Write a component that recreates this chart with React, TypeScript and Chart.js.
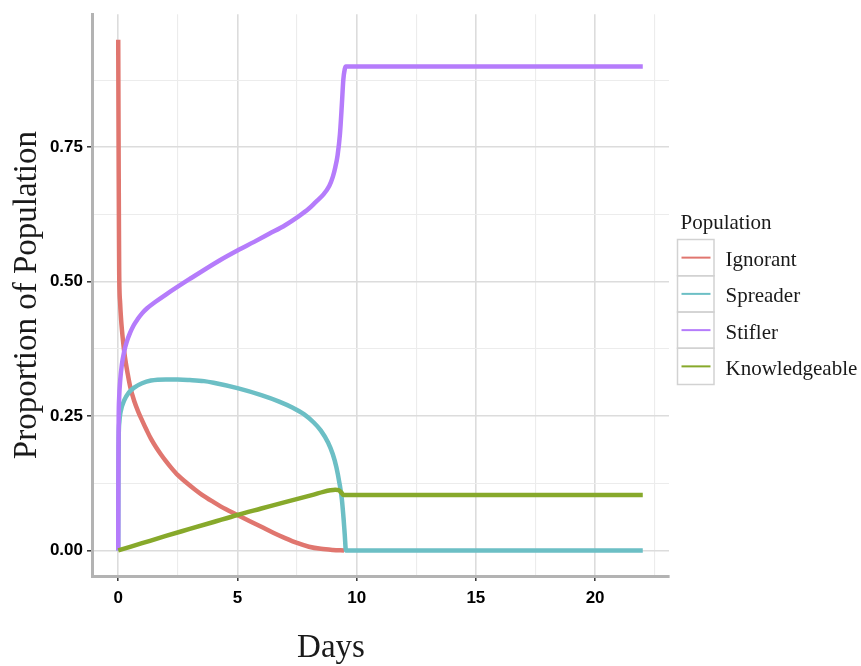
import React, { useEffect, useRef } from "react";
import { Chart, registerables } from "chart.js";

Chart.register(...registerables);

// ---- data ----
const seriesNames = ["Ignorant", "Spreader", "Stifler", "Knowledgeable"];
const seriesColors = ["#e0766f", "#6cbfc5", "#b57cfb", "#87a92b"];

const ignorantDays = [0, 0.01, 0.02, 0.03, 0.04, 0.08, 0.12, 0.2, 0.28, 0.4, 0.5, 0.67, 0.85, 1.0, 1.2, 1.37, 1.6, 1.8, 2.0, 2.2, 2.5, 2.84, 3.2, 3.5, 4.0, 4.5, 5.0, 5.5, 6.0, 6.5, 7.0, 7.5, 8.0, 8.5, 9.0, 9.47];
const ignorantValues = [0.95, 0.82, 0.7, 0.6, 0.52, 0.46, 0.43, 0.39, 0.36, 0.328, 0.305, 0.278, 0.257, 0.242, 0.223, 0.208, 0.191, 0.178, 0.166, 0.155, 0.14, 0.127, 0.114, 0.104, 0.09, 0.077, 0.066, 0.055, 0.044, 0.033, 0.023, 0.014, 0.007, 0.003, 0.001, 0];

const spreaderDays = [0, 0.005, 0.01, 0.02, 0.05, 0.1, 0.25, 0.45, 0.67, 1.0, 1.37, 2.0, 2.49, 3.0, 3.6, 4.0, 5.0, 6.0, 6.75, 7.3, 7.8, 8.2, 8.5, 8.8, 9.0, 9.15, 9.28, 9.38, 9.45, 9.5, 9.55, 22];
const spreaderValues = [0, 0.1, 0.16, 0.21, 0.24, 0.258, 0.279, 0.294, 0.303, 0.311, 0.316, 0.318, 0.318, 0.317, 0.315, 0.312, 0.302, 0.289, 0.277, 0.266, 0.253, 0.238, 0.223, 0.201, 0.179, 0.155, 0.125, 0.095, 0.06, 0.03, 0, 0];

const stiflerDays = [0, 0.005, 0.01, 0.02, 0.04, 0.08, 0.15, 0.25, 0.35, 0.5, 0.65, 0.81, 1.0, 1.2, 1.58, 2.0, 3.0, 4.23, 5.0, 5.7, 6.33, 7.0, 7.52, 8.0, 8.28, 8.6, 8.85, 9.0, 9.1, 9.2, 9.3, 9.38, 9.44, 9.5, 9.55, 22];
const stiflerValues = [0, 0.12, 0.19, 0.25, 0.285, 0.315, 0.345, 0.37, 0.387, 0.405, 0.419, 0.43, 0.441, 0.45, 0.463, 0.476, 0.505, 0.539, 0.558, 0.574, 0.589, 0.605, 0.62, 0.636, 0.648, 0.662, 0.678, 0.695, 0.712, 0.735, 0.775, 0.83, 0.875, 0.895, 0.9, 0.9];

const knowledgeableDays = [0, 1, 2, 3, 4, 5, 6, 7, 7.6, 8.2, 8.6, 8.9, 9.1, 9.25, 9.35, 9.45, 22];
const knowledgeableValues = [0, 0.0135, 0.027, 0.04, 0.053, 0.066, 0.078, 0.09, 0.097, 0.104, 0.109, 0.112, 0.113, 0.112, 0.108, 0.103, 0.103];

const xTickValues = [0, 5, 10, 15, 20];
const xTickLabels = ["0", "5", "10", "15", "20"];
const yTickValues = [0, 0.25, 0.5, 0.75];
const yTickLabels = ["0.00", "0.25", "0.50", "0.75"];

const legendTitle = "Population";
const xTitle = "Days";
const yTitle = "Proportion of Population";

const allDays = [ignorantDays, spreaderDays, stiflerDays, knowledgeableDays];
const allValues = [ignorantValues, spreaderValues, stiflerValues, knowledgeableValues];

const near = (a: number, b: number) => Math.abs(a - b) < 1e-6;
const majorIndex = (vals: number[], v: number) => vals.findIndex((m) => near(m, v));

const SERIF = "'Liberation Serif', 'DejaVu Serif', serif";
const SANS = "'Liberation Sans', Arial, sans-serif";

const overlayPlugin = {
  id: "ggOverlay",
  afterDraw(chart: any) {
    const ctx = chart.ctx as CanvasRenderingContext2D;
    const boxLeft = chart.chartArea.right + 8.5;
    const boxW = 36.5;
    const top = 239.5;
    const rowH = 36.25;
    ctx.save();
    // x axis title
    ctx.fillStyle = "#1a1a1a";
    ctx.font = `33px ${SERIF}`;
    ctx.textAlign = "center";
    ctx.textBaseline = "alphabetic";
    ctx.fillText(xTitle, 331, 657);
    // legend
    ctx.font = `21px ${SERIF}`;
    ctx.textAlign = "left";
    ctx.fillText(legendTitle, boxLeft + 3, 229);
    chart.data.datasets.forEach((ds: any, i: number) => {
      const y0 = top + i * rowH;
      ctx.strokeStyle = "#d2d2d2";
      ctx.lineWidth = 1.5;
      ctx.strokeRect(boxLeft, y0, boxW, rowH);
      const cy = y0 + rowH / 2;
      ctx.strokeStyle = ds.borderColor;
      ctx.lineWidth = 2;
      ctx.beginPath();
      ctx.moveTo(boxLeft + 4, cy);
      ctx.lineTo(boxLeft + 33, cy);
      ctx.stroke();
      ctx.fillStyle = "#1a1a1a";
      ctx.fillText(ds.label, boxLeft + 48, cy + 8.5);
    });
    ctx.restore();
  },
};

const makeTicks = (maxVal: number, step: number) => {
  const out: { value: number }[] = [];
  for (let k = 0; k * step <= maxVal + 1e-9; k++) out.push({ value: Math.round(k * step * 1000) / 1000 });
  return out;
};

export default function App() {
  const ref = useRef<HTMLCanvasElement | null>(null);

  useEffect(() => {
    if (!ref.current) return;
    const datasets = seriesNames.map((name, i) => ({
      label: name,
      data: allDays[i].map((d, j) => ({ x: d, y: allValues[i][j] })),
      borderColor: seriesColors[i],
      backgroundColor: seriesColors[i],
      borderWidth: 4.5,
      pointRadius: 0,
      pointHoverRadius: 0,
      fill: false,
      cubicInterpolationMode: "monotone" as const,
      order: seriesNames.length - i,
    }));

    const gridColor = (vals: number[]) => (c: any) =>
      c.tick && majorIndex(vals, c.tick.value) >= 0 ? "#dcdcdc" : "#ececec";
    const gridWidth = (vals: number[]) => (c: any) =>
      c.tick && majorIndex(vals, c.tick.value) >= 0 ? 1.6 : 1.1;
    const tickColor = (vals: number[]) => (c: any) =>
      c.tick && majorIndex(vals, c.tick.value) >= 0 ? "#333333" : "rgba(0,0,0,0)";

    const chart = new Chart(ref.current, {
      type: "line",
      data: { datasets },
      plugins: [overlayPlugin],
      options: {
        responsive: false,
        animation: false,
        devicePixelRatio: 1,
        layout: { padding: { left: 0, right: 192, top: 10, bottom: 0 } },
        plugins: {
          legend: { display: false },
          tooltip: { enabled: false },
        },
        scales: {
          x: {
            type: "linear",
            min: -1.1,
            max: 23.1,
            afterFit: (s: any) => {
              s.height = 90;
            },
            afterBuildTicks: (s: any) => {
              s.ticks = makeTicks(22.5, 2.5);
            },
            ticks: {
              autoSkip: false,
              maxRotation: 0,
              padding: 7,
              color: "#000",
              font: { family: SANS, weight: "bold", size: 17 },
              callback: (v: any) => {
                const k = majorIndex(xTickValues, Number(v));
                return k >= 0 ? xTickLabels[k] : "";
              },
            },
            grid: {
              color: gridColor(xTickValues),
              lineWidth: gridWidth(xTickValues),
              tickColor: tickColor(xTickValues),
              tickLength: 5,
              tickWidth: 1.5,
            },
            border: { display: true, color: "#b3b3b3", width: 3 },
            title: { display: false },
          },
          y: {
            type: "linear",
            min: -0.0475,
            max: 0.9975,
            afterFit: (s: any) => {
              s.width = 92;
            },
            afterBuildTicks: (s: any) => {
              s.ticks = makeTicks(0.875, 0.125);
            },
            ticks: {
              autoSkip: false,
              padding: 4,
              color: "#000",
              font: { family: SANS, weight: "bold", size: 17 },
              callback: (v: any) => {
                const k = majorIndex(yTickValues, Number(v));
                return k >= 0 ? yTickLabels[k] : "";
              },
            },
            grid: {
              color: gridColor(yTickValues),
              lineWidth: gridWidth(yTickValues),
              tickColor: tickColor(yTickValues),
              tickLength: 5,
              tickWidth: 1.5,
            },
            border: { display: true, color: "#b3b3b3", width: 3 },
            title: {
              display: true,
              text: yTitle,
              color: "#1a1a1a",
              font: { family: SERIF, size: 33, weight: "normal" },
              padding: { top: 8, bottom: 0 },
            },
          },
        },
      },
    } as any);
    return () => chart.destroy();
  }, []);

  return (
    <div style={{ position: "absolute", left: 0, top: 0, width: 861, height: 666, background: "#fff" }}>
      <canvas ref={ref} width={861} height={666} style={{ display: "block", width: 861, height: 666 }} />
    </div>
  );
}
